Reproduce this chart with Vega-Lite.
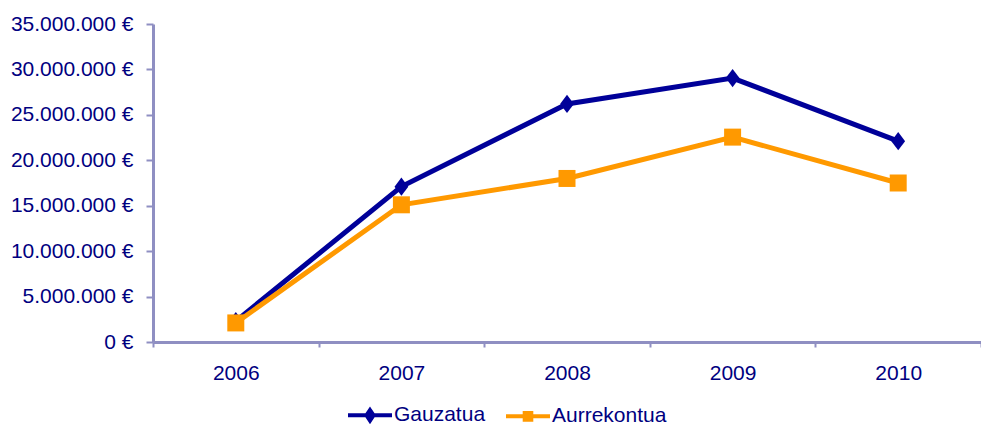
{
  "$schema": "https://vega.github.io/schema/vega-lite/v6.json",
  "width": 828,
  "height": 318,
  "autosize": {"type": "none"},
  "padding": {"left": 153, "top": 24, "right": 0, "bottom": 82},
  "background": "white",
  "config": {
    "view": {"stroke": null},
    "locale": {"number": {"decimal": ",", "thousands": ".", "grouping": [3], "currency": ["", " €"]}},
    "font": "Liberation Sans"
  },
  "data": {
    "values": [
      {"year": "2006", "series": "Gauzatua", "value": 2300000},
      {"year": "2007", "series": "Gauzatua", "value": 17100000},
      {"year": "2008", "series": "Gauzatua", "value": 26200000},
      {"year": "2009", "series": "Gauzatua", "value": 29050000},
      {"year": "2010", "series": "Gauzatua", "value": 22100000},
      {"year": "2006", "series": "Aurrekontua", "value": 2100000},
      {"year": "2007", "series": "Aurrekontua", "value": 15100000},
      {"year": "2008", "series": "Aurrekontua", "value": 18000000},
      {"year": "2009", "series": "Aurrekontua", "value": 22550000},
      {"year": "2010", "series": "Aurrekontua", "value": 17500000}
    ]
  },
  "encoding": {
    "x": {
      "field": "year", "type": "ordinal", "title": null,
      "scale": {"type": "band", "paddingInner": 0, "paddingOuter": 0},
      "axis": {
        "labelAngle": 0, "labelFontSize": 21, "labelColor": "#000080", "labelFont": "Liberation Sans",
        "domainColor": "#8F8FC2", "domainWidth": 3, "tickColor": "#8F8FC2", "tickWidth": 2, "tickSize": 5,
        "tickBand": "extent", "labelPadding": 15, "grid": false
      }
    },
    "y": {
      "field": "value", "type": "quantitative", "title": null,
      "scale": {"domain": [0, 35000000], "nice": false},
      "axis": {
        "values": [0, 5000000, 10000000, 15000000, 20000000, 25000000, 30000000, 35000000],
        "format": "$,.0f",
        "labelFontSize": 21, "labelColor": "#000080", "labelFont": "Liberation Sans",
        "domainColor": "#8F8FC2", "domainWidth": 3, "tickColor": "#8F8FC2", "tickWidth": 2, "tickSize": 7,
        "labelPadding": 13, "grid": false
      }
    }
  },
  "layer": [
    {
      "transform": [{"filter": "datum.series === 'Gauzatua'"}],
      "mark": {"type": "line", "color": "#000099", "strokeWidth": 5},
      "encoding": {}
    },
    {
      "transform": [{"filter": "datum.series === 'Gauzatua'"}],
      "mark": {"type": "point", "filled": true, "opacity": 1, "color": "#000099", "size": 190, "shape": "M0,-1.33L1,0L0,1.33L-1,0Z"},
      "encoding": {}
    },
    {
      "transform": [{"filter": "datum.series === 'Aurrekontua'"}],
      "mark": {"type": "line", "color": "#FF9900", "strokeWidth": 5},
      "encoding": {}
    },
    {
      "transform": [{"filter": "datum.series === 'Aurrekontua'"}],
      "mark": {"type": "point", "filled": true, "opacity": 1, "color": "#FF9900", "size": 289, "shape": "square"},
      "encoding": {}
    },
    {
      "mark": {"type": "point", "filled": true, "opacity": 0},
      "encoding": {
        "color": {
          "field": "series", "type": "nominal",
          "scale": {"domain": ["Gauzatua", "Aurrekontua"], "range": ["#000099", "#FF9900"]},
          "legend": {
            "title": null, "orient": "none", "direction": "horizontal", "legendX": 193, "legendY": 367,
            "symbolSize": 1936, "labelFontSize": 21, "labelColor": "#000080", "labelFont": "Liberation Sans",
            "labelOffset": 0, "columnPadding": 12, "labelLimit": 400,
            "encode": {
              "symbols": {"update": {
                "opacity": {"value": 1},
                "fill": {"scale": "color", "field": "value"},
                "stroke": {"scale": "color", "field": "value"},
                "strokeWidth": {"value": 4}
              }}
            }
          }
        },
        "shape": {
          "field": "series", "type": "nominal",
          "scale": {"domain": ["Gauzatua", "Aurrekontua"], "range": ["M-1,0H1M0,-0.24L0.16,0L0,0.24L-0.16,0Z", "M-1,0H1M-0.15,-0.15H0.15V0.15H-0.15Z"]},
          "legend": {
            "title": null, "orient": "none", "direction": "horizontal", "legendX": 193, "legendY": 367,
            "symbolSize": 1936, "labelFontSize": 21, "labelColor": "#000080", "labelFont": "Liberation Sans",
            "labelOffset": 0, "columnPadding": 12, "labelLimit": 400,
            "encode": {
              "symbols": {"update": {
                "opacity": {"value": 1},
                "fill": {"scale": "color", "field": "value"},
                "stroke": {"scale": "color", "field": "value"},
                "strokeWidth": {"value": 4}
              }}
            }
          }
        }
      }
    }
  ]
}
